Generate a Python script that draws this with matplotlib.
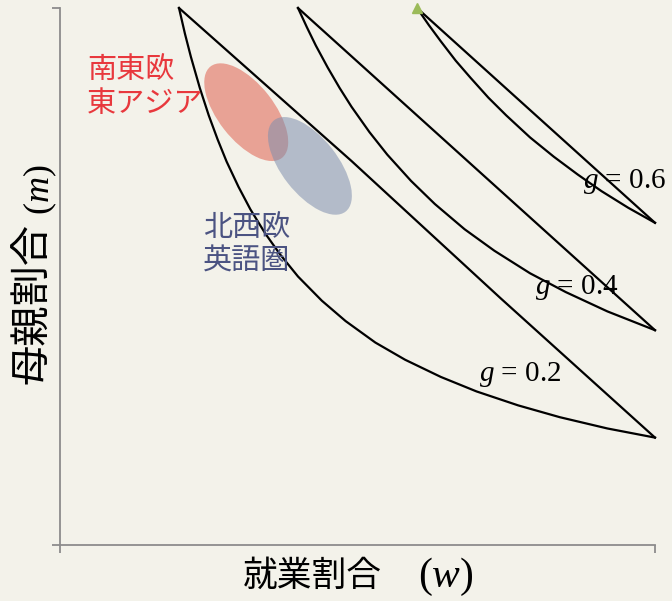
import matplotlib
matplotlib.use("Agg")
import matplotlib.pyplot as plt
from matplotlib.patches import Ellipse
import matplotlib.transforms as mtransforms

# ---------------- data ----------------
g_values = [0.2, 0.4, 0.6]
g_labels = ["0.2", "0.4", "0.6"]

# upper boundary (straight) of each region: w, m
g02_upper_w = [0.20, 0.49, 0.74, 1.00]
g02_upper_m = [1.00, 0.715, 0.46, 0.20]
g04_upper_w = [0.40, 0.50, 0.94, 1.00]
g04_upper_m = [1.00, 0.90, 0.46, 0.40]
g06_upper_w = [0.60, 0.74, 0.90, 1.00]
g06_upper_m = [1.00, 0.86, 0.70, 0.60]

# lower boundary (curved) of each region: w, m
g02_lower_w = [0.20, 0.21, 0.22, 0.235, 0.25, 0.265, 0.28, 0.30, 0.32, 0.345, 0.37, 0.40,
               0.44, 0.48, 0.53, 0.58, 0.64, 0.70, 0.77, 0.84, 0.92, 1.00]
g02_lower_m = [1.00, 0.952, 0.909, 0.851, 0.800, 0.755, 0.714, 0.667, 0.625, 0.580, 0.541, 0.500,
               0.455, 0.417, 0.377, 0.345, 0.313, 0.286, 0.260, 0.238, 0.217, 0.200]
g04_lower_w = [0.40, 0.415, 0.43, 0.45, 0.47, 0.49, 0.52, 0.55, 0.59, 0.63, 0.68, 0.73,
               0.79, 0.85, 0.92, 1.00]
g04_lower_m = [1.00, 0.964, 0.930, 0.889, 0.851, 0.816, 0.769, 0.727, 0.678, 0.635, 0.588, 0.548,
               0.506, 0.471, 0.435, 0.400]
g06_lower_w = [0.60, 0.62, 0.64, 0.665, 0.69, 0.72, 0.75, 0.79, 0.83, 0.87, 0.91, 0.955, 1.00]
g06_lower_m = [1.00, 0.968, 0.938, 0.902, 0.870, 0.833, 0.800, 0.759, 0.723, 0.690, 0.659, 0.628, 0.600]

# label positions for each g (w, m)
g_label_w = [0.773, 0.868, 0.948]
g_label_m = [0.318, 0.480, 0.676]

# country group regions
region_names = ["南東欧\n東アジア", "北西欧\n英語圏"]
region_center_w = [0.313, 0.420]
region_center_m = [0.806, 0.706]
region_label_w = [0.045, 0.240]
region_label_m = [0.912, 0.618]

x_title_cjk = "就業割合"
x_title_sym = "($w$)"
y_title_cjk = "母親割合"
y_title_sym = "($m$)"

# ---------------- style ----------------
BG = "#f3f2ea"
plt.rcParams["mathtext.fontset"] = "custom"
plt.rcParams["mathtext.it"] = "Liberation Serif:italic"
plt.rcParams["mathtext.rm"] = "Liberation Serif"
serif = ["Liberation Serif", "DejaVu Serif"]
cjk = ["Noto Sans CJK JP", "DejaVu Sans"]

fig = plt.figure(figsize=(6.72, 6.01), dpi=100, facecolor=BG)
ax = fig.add_axes([60 / 672, 56 / 601, 595 / 672, 537 / 601])
ax.set_facecolor(BG)
ax.set_xlim(0, 1)
ax.set_ylim(0, 1)

for s in ["top", "right"]:
    ax.spines[s].set_visible(False)
for s in ["left", "bottom"]:
    ax.spines[s].set_color("#8c8c8c")
    ax.spines[s].set_linewidth(1.3)
ax.set_xticks([0, 1])
ax.set_yticks([0, 1])
ax.set_xticklabels([])
ax.set_yticklabels([])
ax.tick_params(length=6, width=1.3, color="#8c8c8c")

# ellipses (sizes in inches, in display space)
region_colors = ["#e0604f", "#7f8fae"]
for cw, cm, col in zip(region_center_w, region_center_m, region_colors):
    tr = fig.dpi_scale_trans + mtransforms.ScaledTranslation(cw, cm, ax.transData)
    e = Ellipse((0, 0), 1.16, 0.56, angle=-52, transform=tr,
                facecolor=col, alpha=0.55, edgecolor="none", zorder=1)
    ax.add_patch(e)

# curves
uppers = [(g02_upper_w, g02_upper_m), (g04_upper_w, g04_upper_m), (g06_upper_w, g06_upper_m)]
lowers = [(g02_lower_w, g02_lower_m), (g04_lower_w, g04_lower_m), (g06_lower_w, g06_lower_m)]
for (uw, um), (lw_, lm) in zip(uppers, lowers):
    ax.plot(uw, um, color="black", lw=1.6, clip_on=False, zorder=3)
    ax.plot(lw_, lm, color="black", lw=1.6, clip_on=False, zorder=3)

ax.plot([g06_upper_w[0]], [g06_upper_m[0]], marker="^", color="#9bbb59",
        markersize=7, clip_on=False, zorder=5, linestyle="none")

for lab, x, y in zip(g_labels, g_label_w, g_label_m):
    ax.text(x, y, r"$g$ = " + lab, fontsize=21, family=serif,
            ha="center", va="center", zorder=4)

region_text_colors = ["#e8383d", "#4b5382"]
for name, x, y, c in zip(region_names, region_label_w, region_label_m, region_text_colors):
    ax.text(x, y, name, fontsize=21, family=cjk, color=c, ha="left", va="top",
            linespacing=1.17, zorder=4)

# axis titles
fig.text(312 / 672, 1 - 576 / 601, x_title_cjk, fontsize=25, family=cjk,
         ha="center", va="center")
fig.text(446 / 672, 1 - 577 / 601, x_title_sym, fontsize=30, family=serif,
         ha="center", va="center")
fig.text(33 / 672, 1 - 303 / 601, y_title_cjk, fontsize=29, family=cjk,
         ha="center", va="center", rotation=90)
fig.text(40 / 672, 1 - 190 / 601, y_title_sym, fontsize=26, family=serif,
         ha="center", va="center", rotation=90)

fig.savefig("out.png", dpi=100, facecolor=BG)
